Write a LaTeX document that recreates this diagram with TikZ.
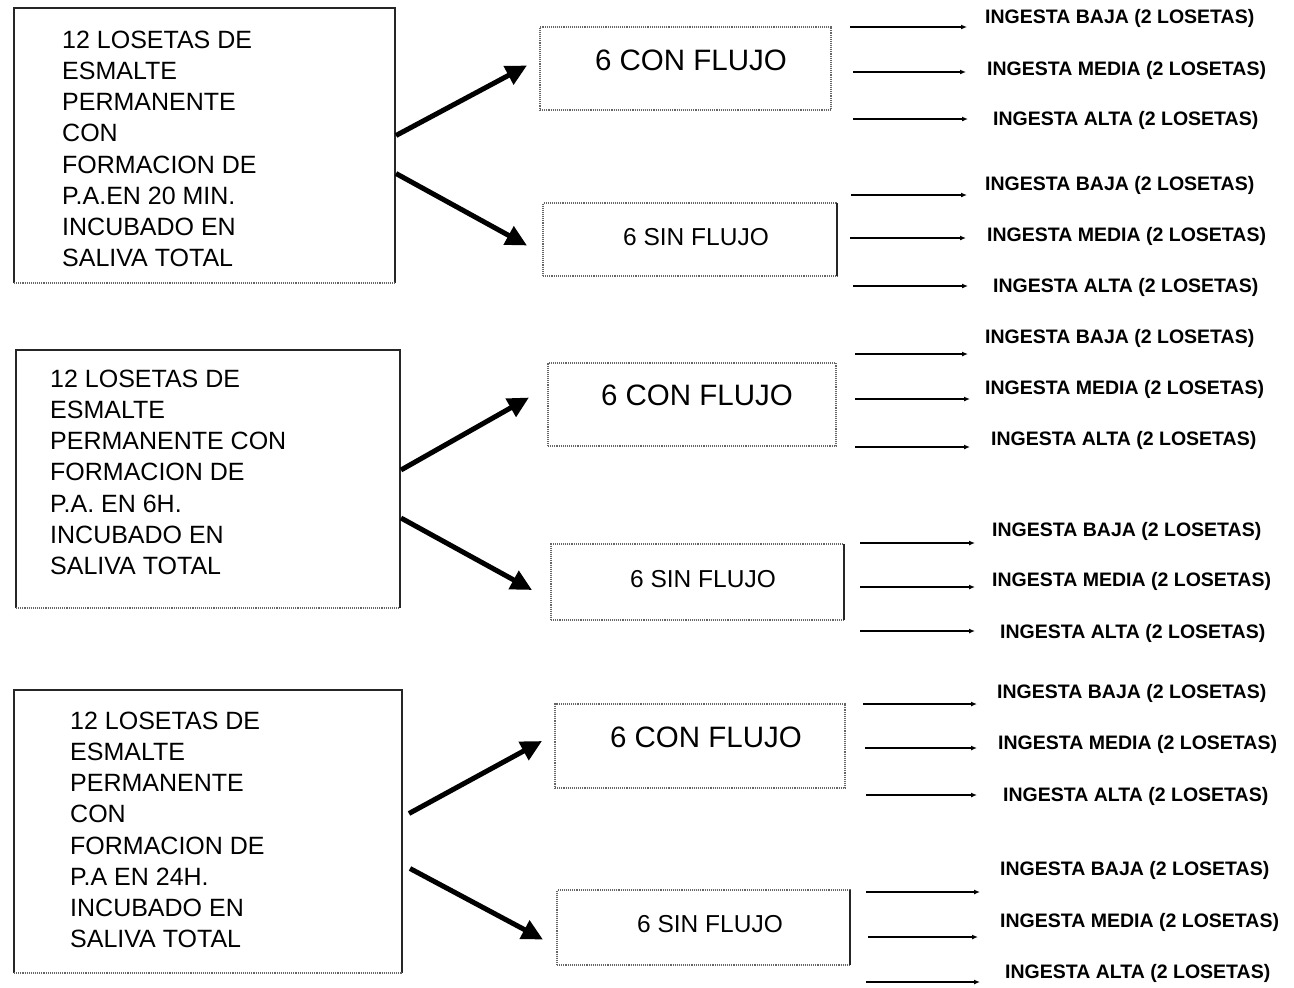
\documentclass[tikz,border=0pt]{standalone}
\usepackage{fontspec}
\setmainfont{Liberation Sans}
\usetikzlibrary{arrows.meta,calc}
\begin{document}
\begin{tikzpicture}[x=1pt,y=-1pt,
  boxnode/.style={inner sep=0pt, outer sep=0pt},
  leftbox/.style={line width=1.3pt, draw=black!85},
  dotbox/.style={draw=black!60, line width=1.1pt, densely dotted},
  lefttext/.style={anchor=north west, align=left, inner sep=0pt, font=\fontsize{25}{31.1}\selectfont},
  context/.style={inner sep=0pt, font=\fontsize{29.5}{32}\selectfont},
  sintext/.style={inner sep=0pt, font=\fontsize{24.5}{28}\selectfont},
  labeltext/.style={anchor=west, inner sep=0pt, font=\fontsize{19.5}{23}\selectfont\bfseries},
  thickarrow/.style={line width=5pt, -{Triangle[length=21pt,width=20pt]}},
  thinarrow/.style={line width=1.7pt, -{Latex[length=6pt,width=5pt]}}
]
\useasboundingbox (0,0) rectangle (1294,988);
\fill[white] (0,0) rectangle (1294,988);

% ---------- Group boxes ----------
% big boxes
\node[boxnode, minimum width=381, minimum height=275] (b1) at (204.5,145.5) {};
\node[boxnode, minimum width=384, minimum height=258] (b2) at (208,479) {};
\node[boxnode, minimum width=388, minimum height=283] (b3) at (208,831.5) {};
\foreach \b in {b1,b2,b3}{
  \draw[leftbox] (\b.south west) -- (\b.north west) -- (\b.north east) -- (\b.south east);
  \draw[dotbox] (\b.south west) -- (\b.south east);
}
\node[lefttext] (t1) at (62,31) {12 LOSETAS DE\\ESMALTE\\PERMANENTE\\CON\\FORMACION DE\\P.A.EN 20 MIN.\\INCUBADO EN\\SALIVA TOTAL};
\node[lefttext] (t2) at (50,370) {12 LOSETAS DE\\ESMALTE\\PERMANENTE CON\\FORMACION DE\\P.A. EN 6H.\\INCUBADO EN\\SALIVA TOTAL};
\node[lefttext] (t3) at (70,712) {12 LOSETAS DE\\ESMALTE\\PERMANENTE\\CON\\FORMACION DE\\P.A EN 24H.\\INCUBADO EN\\SALIVA TOTAL};

% con flujo boxes
\node[boxnode, dotbox, minimum width=291, minimum height=83] (c1) at (685.5,68.5) {};
\node[boxnode, dotbox, minimum width=288, minimum height=83] (c2) at (692,404.5) {};
\node[boxnode, dotbox, minimum width=290, minimum height=84] (c3) at (700,746) {};
\node[context] (c1t) at (691,60) {6 CON FLUJO};
\node[context] (c2t) at (697,395) {6 CON FLUJO};
\node[context] (c3t) at (706,737) {6 CON FLUJO};

% sin flujo boxes
\node[boxnode, dotbox, minimum width=294, minimum height=73] (s1) at (690,239.5) {};
\node[boxnode, dotbox, minimum width=293, minimum height=76] (s2) at (697.5,582) {};
\node[boxnode, dotbox, minimum width=293, minimum height=75] (s3) at (703.5,927.5) {};
\foreach \s in {s1,s2,s3}{
  \draw[line width=1.3pt, black!85] (\s.north east) -- (\s.south east);
}
\node[sintext] (s1t) at (696,237) {6 SIN FLUJO};
\node[sintext] (s2t) at (703,579) {6 SIN FLUJO};
\node[sintext] (s3t) at (710,924) {6 SIN FLUJO};

% ---------- thick arrows ----------
\draw[thickarrow] ($(b1.east)+(1,-10)$) -- ($(c1.west)+(-13,-3)$);
\draw[thickarrow] ($(b1.east)+(1,28)$) -- ($(s1.west)+(-16,6)$);
\draw[thickarrow] ($(b2.east)+(1,-9)$) -- ($(c2.west)+(-19,-7)$);
\draw[thickarrow] ($(b2.east)+(1,39)$) -- ($(s2.west)+(-19,8)$);
\draw[thickarrow] ($(b3.east)+(7,-18)$) -- ($(c3.west)+(-13,-5)$);
\draw[thickarrow] ($(b3.east)+(8,37)$) -- ($(s3.west)+(-14,12)$);

% ---------- thin arrows and labels ----------
\foreach \sx/\ex/\ay/\lx/\ly/\t [count=\i] in {
  850/967/27/985/18/INGESTA BAJA (2 LOSETAS),
  853/966/72/987/70/INGESTA MEDIA (2 LOSETAS),
  853/968/119/993/120/INGESTA ALTA (2 LOSETAS),
  851/967/195/985/185/INGESTA BAJA (2 LOSETAS),
  850/966/238/987/236/INGESTA MEDIA (2 LOSETAS),
  853/968/286/993/287/INGESTA ALTA (2 LOSETAS),
  855/968/354/985/338/INGESTA BAJA (2 LOSETAS),
  855/970/399/985/389/INGESTA MEDIA (2 LOSETAS),
  855/970/447/991/440/INGESTA ALTA (2 LOSETAS),
  860/975/543/992/531/INGESTA BAJA (2 LOSETAS),
  860/975/587/992/581/INGESTA MEDIA (2 LOSETAS),
  860/975/631/1000/633/INGESTA ALTA (2 LOSETAS),
  863/977/704/997/693/INGESTA BAJA (2 LOSETAS),
  865/977/748/998/744/INGESTA MEDIA (2 LOSETAS),
  866/977/795/1003/796/INGESTA ALTA (2 LOSETAS),
  866/980/892/1000/870/INGESTA BAJA (2 LOSETAS),
  868/978/937/1000/922/INGESTA MEDIA (2 LOSETAS),
  866/980/982/1005/973/INGESTA ALTA (2 LOSETAS)}{
  \coordinate (as\i) at (\sx,\ay);
  \coordinate (ae\i) at (\ex,\ay);
  \draw[thinarrow] (as\i) -- (ae\i);
  \node[labeltext] (lab\i) at (\lx,\ly) {\t};
}
\end{tikzpicture}
\end{document}
